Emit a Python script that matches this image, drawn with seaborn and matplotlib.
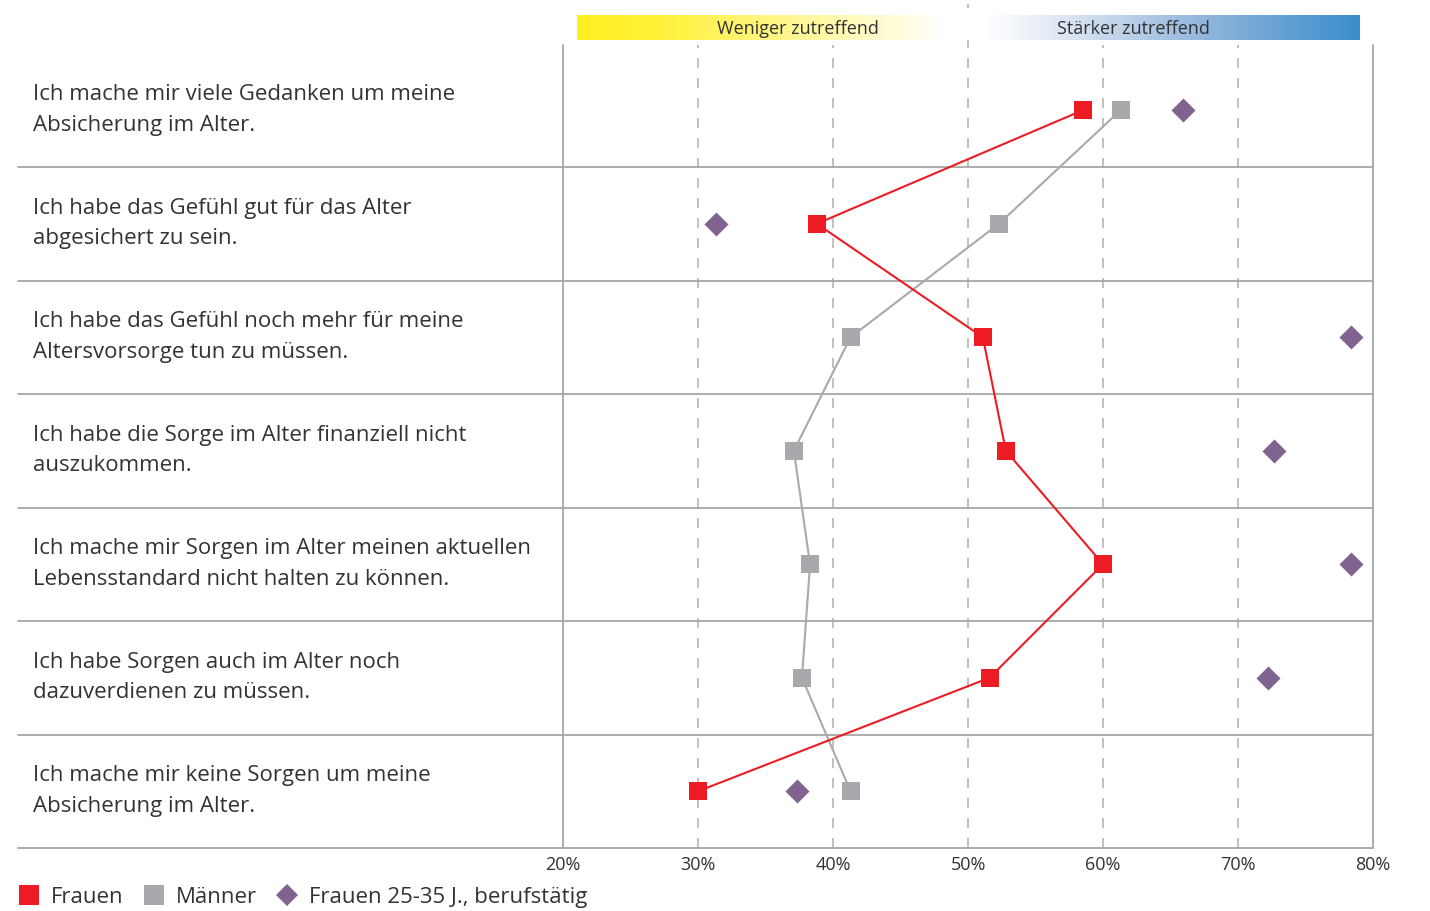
import matplotlib.pyplot as plt
import seaborn as sns
import numpy as np
import pandas as pd
from matplotlib.lines import Line2D
from matplotlib.colors import LinearSegmentedColormap
from matplotlib.transforms import blended_transform_factory

# ---------- Daten ----------
aussagen = [
    "Ich mache mir viele Gedanken um meine\nAbsicherung im Alter.",
    "Ich habe das Gefühl gut für das Alter\nabgesichert zu sein.",
    "Ich habe das Gefühl noch mehr für meine\nAltersvorsorge tun zu müssen.",
    "Ich habe die Sorge im Alter finanziell nicht\nauszukommen.",
    "Ich mache mir Sorgen im Alter meinen aktuellen\nLebensstandard nicht halten zu können.",
    "Ich habe Sorgen auch im Alter noch\ndazuverdienen zu müssen.",
    "Ich mache mir keine Sorgen um meine\nAbsicherung im Alter.",
]
frauen = [58.5, 38.8, 51.1, 52.8, 60.0, 51.6, 30.0]
maenner = [61.3, 52.3, 41.3, 37.1, 38.3, 37.7, 41.3]
frauen_jung = [65.9, 31.3, 78.4, 72.7, 78.4, 72.2, 37.3]
x_ticks = [20, 30, 40, 50, 60, 70, 80]
legende = ["Frauen", "Männer", "Frauen 25-35 J., berufstätig"]

ROT = "#ED1C24"
GRAU = "#A7A9AC"
LILA = "#80638F"
LINIE = "#A6A6A6"

sns.set_style("white")
plt.rcParams["font.family"] = ["Open Sans", "DejaVu Sans"]

df = pd.DataFrame({
    "zeile": np.arange(len(aussagen)),
    "frauen": frauen,
    "maenner": maenner,
    "frauen_jung": frauen_jung,
})

W, H = 1430, 912
fig = plt.figure(figsize=(W / 100, H / 100), dpi=100)
ax_top, ax_bot = 50, 849
ax = fig.add_axes([563 / W, 1 - ax_bot / H, (1373 - 563) / W, (ax_bot - ax_top) / H])

# Linien + Marker
sns.lineplot(data=df, x="maenner", y="zeile", sort=False, estimator=None,
             color=GRAU, lw=1.5, marker="s", markersize=12.5,
             markeredgewidth=0, ax=ax, zorder=3)
sns.lineplot(data=df, x="frauen", y="zeile", sort=False, estimator=None,
             color=ROT, lw=1.5, marker="s", markersize=12.5,
             markeredgewidth=0, ax=ax, zorder=4)
sns.scatterplot(data=df, x="frauen_jung", y="zeile", color=LILA, marker="D",
                s=150, linewidth=0, ax=ax, zorder=5)

ax.set_xlim(20, 80)
pitch = 113.5
ax.set_ylim(6.5, 6.5 - (ax_bot - ax_top) / pitch)
ax.set_xlabel("")
ax.set_ylabel("")
ax.set_yticks([])
ax.set_xticks(x_ticks)
ax.set_xticklabels([f"{t}%" for t in x_ticks], fontsize=13, color="#333333")
ax.tick_params(axis="x", direction="in", length=6, color=LINIE, pad=5)
for s in ax.spines.values():
    s.set_visible(False)

# vertikale Gitterlinien
for t in x_ticks:
    if t in (20, 80):
        ax.axvline(t, ymax=(ax_bot - 46) / (ax_bot - ax_top), color=LINIE,
                   lw=1.3, clip_on=False, zorder=1)
    elif t == 50:
        ax.axvline(t, ymin=0, ymax=(ax_bot - 5) / (ax_bot - ax_top),
                   color="#B5B5B5", lw=1.2, ls=(0, (6, 6)), clip_on=False, zorder=1)
    else:
        ax.axvline(t, ymax=(ax_bot - 46) / (ax_bot - ax_top), color="#B5B5B5",
                   lw=1.2, ls=(0, (6, 6)), clip_on=False, zorder=1)

# horizontale Trennlinien
x_links = (18 - 563) / (1373 - 563)
for i in range(len(aussagen)):
    ax.axhline(i + 0.5, xmin=x_links, xmax=1, color=LINIE, lw=1.3,
               clip_on=False, zorder=1)

# Zeilenbeschriftung
trans = blended_transform_factory(fig.transFigure, ax.transData)
for i, txt in enumerate(aussagen):
    ax.text(33 / W, i - 0.01, txt, transform=trans, ha="left", va="center",
            fontsize=16, color="#333333", linespacing=1.6)

# Kopfzeile mit Farbverlauf
cmap = LinearSegmentedColormap.from_list("kopf", [
    (0.0, "#FFEF22"), (0.1, "#FFF136"), (0.3, "#FFF8A0"), (0.47, "#FFFFFF"),
    (0.52, "#FFFFFF"), (0.6, "#E6ECF6"), (0.8, "#93B6DD"), (1.0, "#3A8ECB")])
hx0, hx1, hy0, hy1 = 577, 1360, 16, 41
hax = fig.add_axes([hx0 / W, 1 - hy1 / H, (hx1 - hx0) / W, (hy1 - hy0) / H])
hax.imshow(np.linspace(0, 1, 512)[None, :], aspect="auto", cmap=cmap,
           extent=[0, 1, 0, 1])
hax.axis("off")
fig.text(798 / W, 1 - 29 / H, "Weniger zutreffend", ha="center", va="center",
         fontsize=13, color="#333333")
fig.text(1133 / W, 1 - 29 / H, "Stärker zutreffend", ha="center", va="center",
         fontsize=13, color="#333333")

# Legende
handles = [
    Line2D([], [], ls="none", marker="s", markersize=15, color=ROT, markeredgewidth=0),
    Line2D([], [], ls="none", marker="s", markersize=15, color=GRAU, markeredgewidth=0),
    Line2D([], [], ls="none", marker="D", markersize=11, color=LILA, markeredgewidth=0),
]
fig.legend(handles, legende, loc="center left", bbox_to_anchor=(0 / W, 1 - 898 / H),
           ncol=3, frameon=False, fontsize=16, handlelength=0.8, handletextpad=0.6,
           columnspacing=0.95, labelcolor="#333333")

fig.savefig("out.png", dpi=100)
